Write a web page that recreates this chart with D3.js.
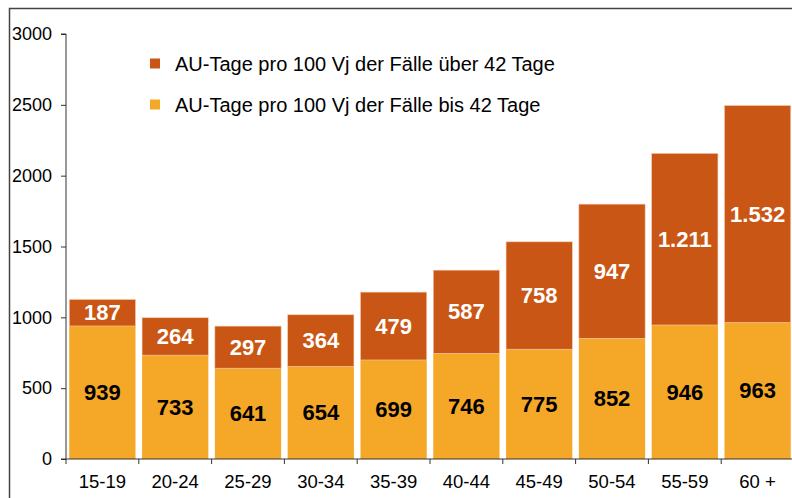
<!DOCTYPE html>
<html>
<head>
<meta charset="utf-8">
<script src="https://cdn.jsdelivr.net/npm/d3@7"></script>
<style>
  body { margin: 0; background: #fff; }
  svg { display: block; font-family: "Liberation Sans", Arial, sans-serif; }
</style>
</head>
<body>
<script>
var categories = ["15-19", "20-24", "25-29", "30-34", "35-39", "40-44", "45-49", "50-54", "55-59", "60 +"];
var bisTage = [939, 733, 641, 654, 699, 746, 775, 852, 946, 963];
var ueberTage = [187, 264, 297, 364, 479, 587, 758, 947, 1211, 1532];
var yTicks = [0, 500, 1000, 1500, 2000, 2500, 3000];
var seriesNames = ["AU-Tage pro 100 Vj der Fälle über 42 Tage", "AU-Tage pro 100 Vj der Fälle bis 42 Tage"];

var colDark = "#CA5615";
var colLight = "#F5A727";

var W = 792, H = 498;
var plotLeft = 66, plotRight = 794, plotTop = 34, plotBottom = 459;

var de = d3.formatLocale({ decimal: ",", thousands: ".", grouping: [3], currency: ["", " €"] });
var fmt = de.format(",d");

var svg = d3.select("body").append("svg").attr("width", W).attr("height", H);

// outer frame
svg.append("path").attr("d", "M9.5," + H + " V8.5 H" + (W + 2))
  .style("fill", "none").style("stroke", "#444").style("stroke-width", 1.5);

var x = d3.scaleBand().domain(categories).range([plotLeft, plotRight]).paddingInner(0.09).paddingOuter(0.045);
var y = d3.scaleLinear().domain([0, 3000]).range([plotBottom, plotTop]);

var rows = categories.map(function(c, i){ return { cat: c, bis: bisTage[i], ueber: ueberTage[i] }; });

var g = svg.append("g");

// lower segment
g.selectAll("rect.bis").data(rows).enter().append("rect")
  .attr("class", "bis")
  .attr("x", function(d){ return x(d.cat); })
  .attr("y", function(d){ return y(d.bis); })
  .attr("width", x.bandwidth())
  .attr("height", function(d){ return y(0) - y(d.bis); })
  .style("fill", colLight);

// upper segment
g.selectAll("rect.ueber").data(rows).enter().append("rect")
  .attr("class", "ueber")
  .attr("x", function(d){ return x(d.cat); })
  .attr("y", function(d){ return y(d.bis + d.ueber); })
  .attr("width", x.bandwidth())
  .attr("height", function(d){ return y(d.bis) - y(d.bis + d.ueber); })
  .style("fill", colDark)
  .style("stroke", "#f3c8a8").style("stroke-width", 0.6);

// labels
g.selectAll("text.bis").data(rows).enter().append("text")
  .attr("class", "bis")
  .attr("x", function(d){ return x(d.cat) + x.bandwidth()/2; })
  .attr("y", function(d){ return (y(0) + y(d.bis))/2; })
  .attr("dy", "0.35em")
  .attr("text-anchor", "middle")
  .style("font-size", "22px").style("font-weight", "bold").style("fill", "#000")
  .text(function(d){ return fmt(d.bis); });

g.selectAll("text.ueber").data(rows).enter().append("text")
  .attr("class", "ueber")
  .attr("x", function(d){ return x(d.cat) + x.bandwidth()/2; })
  .attr("y", function(d){ return (y(d.bis) + y(d.bis + d.ueber))/2; })
  .attr("dy", "0.35em")
  .attr("text-anchor", "middle")
  .style("font-size", "22px").style("font-weight", "bold").style("fill", "#fff")
  .text(function(d){ return fmt(d.ueber); });

// y axis
var yAxis = svg.append("g").attr("transform", "translate(" + plotLeft + ",0)")
  .call(d3.axisLeft(y).tickValues(yTicks).tickSize(5).tickPadding(9).tickFormat(d3.format("d")));
yAxis.select(".domain").attr("d", "M-5," + y(3000) + "H0V" + y(0));
yAxis.selectAll("line, path").style("stroke", "#333");
yAxis.selectAll("text").style("font-size", "18px").style("fill", "#000").style("font-family", "Liberation Sans, Arial, sans-serif");

// x axis
var xTicksPos = categories.map(function(c){ return x(c) - x.step()*x.paddingInner()/2; });
var xAxisG = svg.append("g");
xAxisG.append("line").attr("x1", plotLeft - 5).attr("x2", W + 2).attr("y1", y(0)).attr("y2", y(0)).style("stroke", "#333");
xAxisG.selectAll("line.tick").data(xTicksPos).enter().append("line")
  .attr("class", "tick")
  .attr("x1", function(d){ return d; }).attr("x2", function(d){ return d; })
  .attr("y1", y(0)).attr("y2", y(0) + 5).style("stroke", "#333");
xAxisG.selectAll("text").data(categories).enter().append("text")
  .attr("x", function(d){ return x(d) + x.bandwidth()/2; })
  .attr("y", y(0) + 29)
  .attr("text-anchor", "middle")
  .style("font-size", "18.5px").style("fill", "#000")
  .text(function(d){ return d; });

// legend
var legend = svg.append("g");
var legCols = [colDark, colLight];
var legY = [63.5, 104.5];
seriesNames.forEach(function(n, i){
  legend.append("rect").attr("x", 150).attr("y", legY[i] - 5).attr("width", 10).attr("height", 10).style("fill", legCols[i]);
  legend.append("text").attr("x", 175).attr("y", legY[i]).attr("dy", "0.35em")
    .style("font-size", "20px").style("fill", "#000").text(n);
});
</script>
</body>
</html>
